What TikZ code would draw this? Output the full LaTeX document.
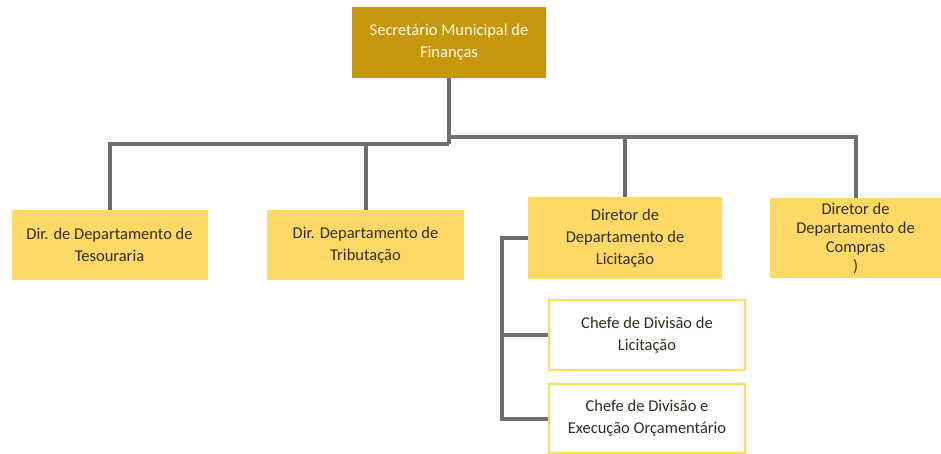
\documentclass[tikz,border=0pt]{standalone}
\usepackage{fontspec}
\setmainfont{Carlito}
\definecolor{topgold}{RGB}{198,150,12}
\definecolor{boxyel}{RGB}{255,217,102}
\definecolor{subline}{RGB}{255,220,90}
\definecolor{conn}{RGB}{110,110,110}
\definecolor{txt}{RGB}{50,45,30}
\begin{document}
\begin{tikzpicture}[x=1pt,y=-1pt,
  every node/.style={font=\fontsize{16.5}{22}\selectfont, align=center, inner sep=0pt},
  topbox/.style={fill=topgold, text=white!92!yellow},
  dirbox/.style={fill=boxyel, text=txt},
  subbox/.style={draw=subline, line width=1.2pt, fill=white, text=txt},
  link/.style={draw=conn, line width=4pt}]
\useasboundingbox (0,0) rectangle (941,454);
\node[topbox, minimum width=194, minimum height=71] (sec) at (449,42.5) {Secretário Municipal de\\Finanças};
\node[dirbox, minimum width=196, minimum height=70] (tes) at (109.5,245) {Dir. de Departamento de\\Tesouraria};
\node[dirbox, minimum width=197, minimum height=70] (tri) at (365.5,245) {Dir. Departamento de\\Tributação};
\node[dirbox, minimum width=194, minimum height=82] (lic) at (625,238) {Diretor de\\Departamento de\\Licitação};
\node[dirbox, minimum width=171, minimum height=80, font=\fontsize{16.5}{19}\selectfont] (com) at (855.5,238) {Diretor de\\Departamento de\\Compras\\)};
\node[subbox, minimum width=196, minimum height=70] (dl) at (647,335) {Chefe de Divisão de\\Licitação};
\node[subbox, minimum width=196, minimum height=69] (de) at (647,418.5) {Chefe de Divisão e\\Execução Orçamentário};
\coordinate (j) at (449,137);
\coordinate (jl) at (449,144);
\draw[link] (sec.south) -- (jl);
\draw[link] (jl) -| (tes.north);
\draw[link] (jl) -| (tri.north);
\draw[link] (j) -| (lic.north);
\draw[link] (j) -| (com.north);
\coordinate (b) at (502,238);
\draw[link] (lic.west) -- (b) |- (de.west);
\draw[link] (b |- dl.west) -- (dl.west);
\end{tikzpicture}
\end{document}
